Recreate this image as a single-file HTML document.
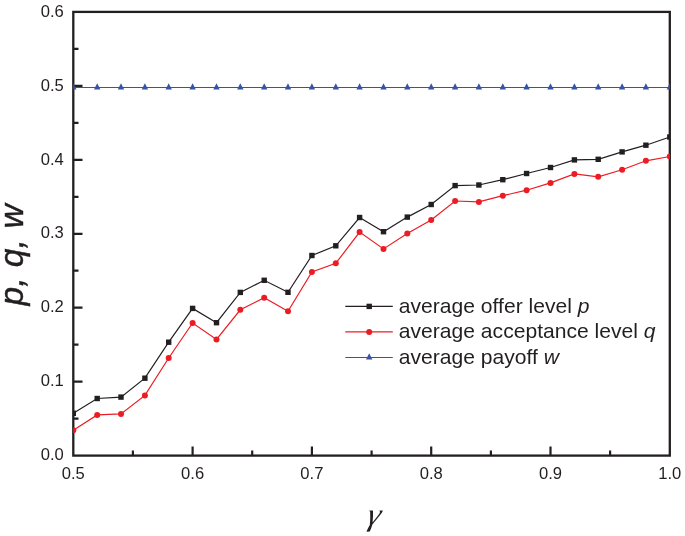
<!DOCTYPE html>
<html><head><meta charset="utf-8"><title>p, q, w vs gamma</title>
<style>
html,body{margin:0;padding:0;background:#fff;}
svg{display:block;}
text{font-family:"Liberation Sans",sans-serif;fill:#231f20;}
.ser{font-family:"Liberation Serif",serif;font-style:italic;}
.it{font-style:italic;}
</style></head><body>
<svg width="685" height="536" viewBox="0 0 685 536">
<rect width="685" height="536" fill="#fff"/>
<rect x="73.3" y="11.9" width="596.5" height="443.7" fill="none" stroke="#231f20" stroke-width="2.3"/>
<path d="M73.3,418.6h5.2M73.3,381.7h9.2M73.3,344.7h5.2M73.3,307.7h9.2M73.3,270.7h5.2M73.3,233.8h9.2M73.3,196.8h5.2M73.3,159.8h9.2M73.3,122.8h5.2M73.3,85.9h9.2M73.3,48.9h5.2M132.9,455.6v-5.2M192.6,455.6v-9.2M252.2,455.6v-5.2M311.9,455.6v-9.2M371.6,455.6v-5.2M431.2,455.6v-9.2M490.9,455.6v-5.2M550.5,455.6v-9.2M610.1,455.6v-5.2" stroke="#231f20" stroke-width="2.2" fill="none"/>
<clipPath id="cp"><rect x="73.3" y="11.9" width="596.5" height="443.7"/></clipPath><g clip-path="url(#cp)">
<polyline fill="none" stroke="#3953a4" stroke-width="1.05" points="73.3,87.5 97.2,87.5 121.0,87.5 144.9,87.5 168.7,87.5 192.6,87.5 216.5,87.5 240.3,87.5 264.2,87.5 288.0,87.5 311.9,87.5 335.8,87.5 359.6,87.5 383.5,87.5 407.3,87.5 431.2,87.5 455.1,87.5 478.9,87.5 502.8,87.5 526.6,87.5 550.5,87.5 574.4,87.5 598.2,87.5 622.1,87.5 645.9,87.5 669.8,87.5"/>
<path fill="#3953a4" d="M70.1,89.6L76.5,89.6L73.3,83.2Z"/>
<path fill="#3953a4" d="M94.0,89.6L100.4,89.6L97.2,83.2Z"/>
<path fill="#3953a4" d="M117.8,89.6L124.2,89.6L121.0,83.2Z"/>
<path fill="#3953a4" d="M141.7,89.6L148.1,89.6L144.9,83.2Z"/>
<path fill="#3953a4" d="M165.5,89.6L171.9,89.6L168.7,83.2Z"/>
<path fill="#3953a4" d="M189.4,89.6L195.8,89.6L192.6,83.2Z"/>
<path fill="#3953a4" d="M213.3,89.6L219.7,89.6L216.5,83.2Z"/>
<path fill="#3953a4" d="M237.1,89.6L243.5,89.6L240.3,83.2Z"/>
<path fill="#3953a4" d="M261.0,89.6L267.4,89.6L264.2,83.2Z"/>
<path fill="#3953a4" d="M284.8,89.6L291.2,89.6L288.0,83.2Z"/>
<path fill="#3953a4" d="M308.7,89.6L315.1,89.6L311.9,83.2Z"/>
<path fill="#3953a4" d="M332.6,89.6L339.0,89.6L335.8,83.2Z"/>
<path fill="#3953a4" d="M356.4,89.6L362.8,89.6L359.6,83.2Z"/>
<path fill="#3953a4" d="M380.3,89.6L386.7,89.6L383.5,83.2Z"/>
<path fill="#3953a4" d="M404.1,89.6L410.5,89.6L407.3,83.2Z"/>
<path fill="#3953a4" d="M428.0,89.6L434.4,89.6L431.2,83.2Z"/>
<path fill="#3953a4" d="M451.9,89.6L458.3,89.6L455.1,83.2Z"/>
<path fill="#3953a4" d="M475.7,89.6L482.1,89.6L478.9,83.2Z"/>
<path fill="#3953a4" d="M499.6,89.6L506.0,89.6L502.8,83.2Z"/>
<path fill="#3953a4" d="M523.4,89.6L529.8,89.6L526.6,83.2Z"/>
<path fill="#3953a4" d="M547.3,89.6L553.7,89.6L550.5,83.2Z"/>
<path fill="#3953a4" d="M571.2,89.6L577.6,89.6L574.4,83.2Z"/>
<path fill="#3953a4" d="M595.0,89.6L601.4,89.6L598.2,83.2Z"/>
<path fill="#3953a4" d="M618.9,89.6L625.3,89.6L622.1,83.2Z"/>
<path fill="#3953a4" d="M642.7,89.6L649.1,89.6L645.9,83.2Z"/>
<path fill="#3953a4" d="M666.6,89.6L673.0,89.6L669.8,83.2Z"/>
<polyline fill="none" stroke="#231f20" stroke-width="1.2" points="73.3,413.3 97.2,398.5 121.0,397.1 144.9,378.2 168.7,342.2 192.6,308.4 216.5,322.7 240.3,292.4 264.2,280.3 288.0,292.3 311.9,255.5 335.8,245.8 359.6,217.5 383.5,231.7 407.3,217.1 431.2,204.5 455.1,185.6 478.9,185.0 502.8,179.7 526.6,173.5 550.5,167.5 574.4,159.9 598.2,159.3 622.1,151.9 645.9,145.2 669.8,137.0"/>
<rect fill="#231f20" x="70.6" y="410.6" width="5.4" height="5.4"/>
<rect fill="#231f20" x="94.5" y="395.8" width="5.4" height="5.4"/>
<rect fill="#231f20" x="118.3" y="394.4" width="5.4" height="5.4"/>
<rect fill="#231f20" x="142.2" y="375.5" width="5.4" height="5.4"/>
<rect fill="#231f20" x="166.0" y="339.5" width="5.4" height="5.4"/>
<rect fill="#231f20" x="189.9" y="305.7" width="5.4" height="5.4"/>
<rect fill="#231f20" x="213.8" y="320.0" width="5.4" height="5.4"/>
<rect fill="#231f20" x="237.6" y="289.7" width="5.4" height="5.4"/>
<rect fill="#231f20" x="261.5" y="277.6" width="5.4" height="5.4"/>
<rect fill="#231f20" x="285.3" y="289.6" width="5.4" height="5.4"/>
<rect fill="#231f20" x="309.2" y="252.8" width="5.4" height="5.4"/>
<rect fill="#231f20" x="333.1" y="243.1" width="5.4" height="5.4"/>
<rect fill="#231f20" x="356.9" y="214.8" width="5.4" height="5.4"/>
<rect fill="#231f20" x="380.8" y="229.0" width="5.4" height="5.4"/>
<rect fill="#231f20" x="404.6" y="214.4" width="5.4" height="5.4"/>
<rect fill="#231f20" x="428.5" y="201.8" width="5.4" height="5.4"/>
<rect fill="#231f20" x="452.4" y="182.9" width="5.4" height="5.4"/>
<rect fill="#231f20" x="476.2" y="182.3" width="5.4" height="5.4"/>
<rect fill="#231f20" x="500.1" y="177.0" width="5.4" height="5.4"/>
<rect fill="#231f20" x="523.9" y="170.8" width="5.4" height="5.4"/>
<rect fill="#231f20" x="547.8" y="164.8" width="5.4" height="5.4"/>
<rect fill="#231f20" x="571.7" y="157.2" width="5.4" height="5.4"/>
<rect fill="#231f20" x="595.5" y="156.6" width="5.4" height="5.4"/>
<rect fill="#231f20" x="619.4" y="149.2" width="5.4" height="5.4"/>
<rect fill="#231f20" x="643.2" y="142.5" width="5.4" height="5.4"/>
<rect fill="#231f20" x="667.1" y="134.3" width="5.4" height="5.4"/>
<polyline fill="none" stroke="#ec1c24" stroke-width="1.2" points="73.3,430.3 97.2,414.9 121.0,413.9 144.9,395.4 168.7,358.0 192.6,323.0 216.5,339.4 240.3,309.8 264.2,297.7 288.0,311.3 311.9,271.9 335.8,263.3 359.6,232.1 383.5,248.9 407.3,233.6 431.2,219.9 455.1,201.0 478.9,201.9 502.8,195.7 526.6,190.2 550.5,182.9 574.4,173.9 598.2,176.8 622.1,169.8 645.9,160.8 669.8,156.5"/>
<circle fill="#ec1c24" cx="73.3" cy="430.3" r="3.0"/>
<circle fill="#ec1c24" cx="97.2" cy="414.9" r="3.0"/>
<circle fill="#ec1c24" cx="121.0" cy="413.9" r="3.0"/>
<circle fill="#ec1c24" cx="144.9" cy="395.4" r="3.0"/>
<circle fill="#ec1c24" cx="168.7" cy="358.0" r="3.0"/>
<circle fill="#ec1c24" cx="192.6" cy="323.0" r="3.0"/>
<circle fill="#ec1c24" cx="216.5" cy="339.4" r="3.0"/>
<circle fill="#ec1c24" cx="240.3" cy="309.8" r="3.0"/>
<circle fill="#ec1c24" cx="264.2" cy="297.7" r="3.0"/>
<circle fill="#ec1c24" cx="288.0" cy="311.3" r="3.0"/>
<circle fill="#ec1c24" cx="311.9" cy="271.9" r="3.0"/>
<circle fill="#ec1c24" cx="335.8" cy="263.3" r="3.0"/>
<circle fill="#ec1c24" cx="359.6" cy="232.1" r="3.0"/>
<circle fill="#ec1c24" cx="383.5" cy="248.9" r="3.0"/>
<circle fill="#ec1c24" cx="407.3" cy="233.6" r="3.0"/>
<circle fill="#ec1c24" cx="431.2" cy="219.9" r="3.0"/>
<circle fill="#ec1c24" cx="455.1" cy="201.0" r="3.0"/>
<circle fill="#ec1c24" cx="478.9" cy="201.9" r="3.0"/>
<circle fill="#ec1c24" cx="502.8" cy="195.7" r="3.0"/>
<circle fill="#ec1c24" cx="526.6" cy="190.2" r="3.0"/>
<circle fill="#ec1c24" cx="550.5" cy="182.9" r="3.0"/>
<circle fill="#ec1c24" cx="574.4" cy="173.9" r="3.0"/>
<circle fill="#ec1c24" cx="598.2" cy="176.8" r="3.0"/>
<circle fill="#ec1c24" cx="622.1" cy="169.8" r="3.0"/>
<circle fill="#ec1c24" cx="645.9" cy="160.8" r="3.0"/>
<circle fill="#ec1c24" cx="669.8" cy="156.5" r="3.0"/>
</g>
<text x="63.8" y="460.3" font-size="16.6" text-anchor="end">0.0</text>
<text x="63.8" y="386.4" font-size="16.6" text-anchor="end">0.1</text>
<text x="63.8" y="312.4" font-size="16.6" text-anchor="end">0.2</text>
<text x="63.8" y="238.4" font-size="16.6" text-anchor="end">0.3</text>
<text x="63.8" y="164.5" font-size="16.6" text-anchor="end">0.4</text>
<text x="63.8" y="90.6" font-size="16.6" text-anchor="end">0.5</text>
<text x="63.8" y="16.6" font-size="16.6" text-anchor="end">0.6</text>
<text x="73.3" y="478.5" font-size="16.6" text-anchor="middle">0.5</text>
<text x="192.6" y="478.5" font-size="16.6" text-anchor="middle">0.6</text>
<text x="311.9" y="478.5" font-size="16.6" text-anchor="middle">0.7</text>
<text x="431.2" y="478.5" font-size="16.6" text-anchor="middle">0.8</text>
<text x="550.5" y="478.5" font-size="16.6" text-anchor="middle">0.9</text>
<text x="669.8" y="478.5" font-size="16.6" text-anchor="middle">1.0</text>
<path d="M345.3,306.4H392.8" stroke="#231f20" stroke-width="1.2" fill="none"/>
<rect fill="#231f20" x="366.5" y="303.7" width="5.4" height="5.4"/>
<text transform="translate(398.8,313.4) scale(1.055,1)" font-size="20">average offer level <tspan class="it">p</tspan></text>
<path d="M345.3,331.9H392.8" stroke="#ec1c24" stroke-width="1.2" fill="none"/>
<circle fill="#ec1c24" cx="369.2" cy="331.9" r="3.0"/>
<text transform="translate(398.8,338.3) scale(1.055,1)" font-size="20">average acceptance level <tspan class="it">q</tspan></text>
<path d="M345.3,357.5H392.8" stroke="#3953a4" stroke-width="1.05" fill="none"/>
<path fill="#3953a4" d="M366.0,359.6L372.4,359.6L369.2,353.2Z"/>
<text transform="translate(398.8,363.9) scale(1.055,1)" font-size="20">average payoff <tspan class="it">w</tspan></text>
<text class="it" transform="translate(22.9,312) rotate(-90)" font-size="33.5" y="0" stroke="#231f20" stroke-width="0.45"><tspan x="6.6">p,</tspan> <tspan x="44.8">q,</tspan> <tspan x="83.5">w</tspan></text>
<text class="ser" transform="translate(365.8,525.1) skewX(-12) scale(1.12,1.06)" font-size="30">γ</text>
</svg></body></html>
